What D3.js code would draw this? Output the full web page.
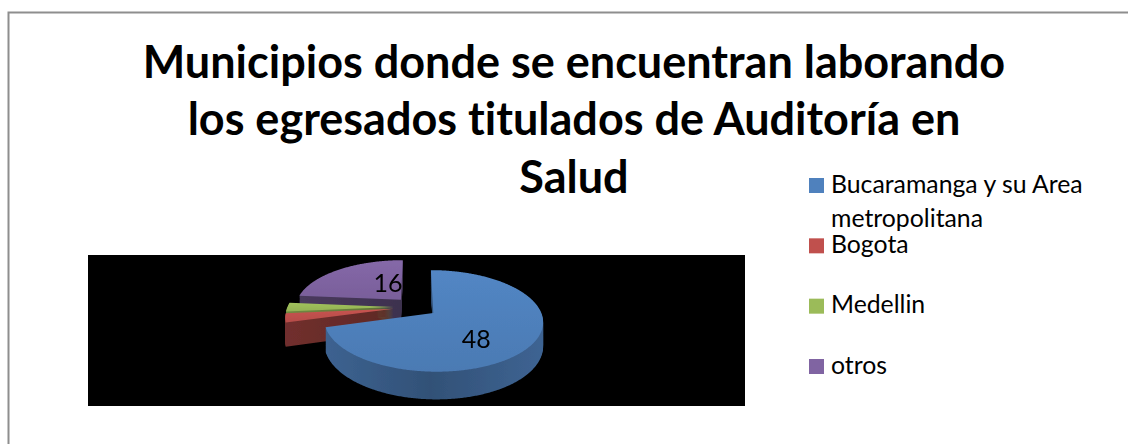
<!DOCTYPE html>
<html>
<head>
<meta charset="utf-8">
<script src="https://cdn.jsdelivr.net/npm/d3@7"></script>
<style>
  html, body { margin: 0; padding: 0; background: #fff; }
  svg { display: block; }
  text { font-family: Lato, "Open Sans", sans-serif; fill: #000; font-variant-ligatures: none; }
</style>
</head>
<body>
<div id="grafica"></div>
<script>
// datos
const titleLines = ["Municipios donde se encuentran laborando", "los egresados titulados de Auditoría en", "Salud"];
const categories = ["Bucaramanga y su Area metropolitana", "Bogota", "Medellin", "otros"];
const legendLines = [["Bucaramanga y su Area", "metropolitana"], ["Bogota"], ["Medellin"], ["otros"]];
const values = [48, 2, 2, 16];
const shownLabels = ["48", "", "", "16"];
const colors = ["#4f81bd", "#c0504d", "#9bbb59", "#8064a2"];
const wallShade = [0, 0.9, 0.3, 0.9];

const width = 1128, height = 444;

const svg = d3.select("#grafica").append("svg")
  .attr("width", width)
  .attr("height", height);

const defs = svg.append("defs");
defs.append("filter").attr("id", "blur")
  .append("feGaussianBlur").attr("stdDeviation", 0.7);

// marco (solo arriba e izquierda)
svg.append("path")
  .attr("d", `M8.5,${height} V12.5 H${width}`)
  .attr("fill", "none")
  .attr("stroke", "#8e8e8e")
  .attr("stroke-width", 2);

// titulo
svg.append("g").selectAll("text")
  .data(titleLines)
  .join("text")
  .attr("x", 574)
  .attr("y", (d, i) => [78, 135, 193][i])
  .attr("text-anchor", "middle")
  .attr("font-size", 45)
  .attr("font-weight", 700)
  .text((d) => d);

// area negra del grafico
svg.append("rect")
  .attr("x", 88).attr("y", 255)
  .attr("width", 657).attr("height", 151)
  .attr("fill", "#000");

// pastel 3D: plano inclinado con perspectiva
const radius = 106, squash = 0.45, focal = 700, depth = 23, explode = 22;
const center = { x: 415.4, y: 307 };

const project = (px, py, z) => {
  const s = focal / (focal - py);
  return [center.x + px * s, center.y + py * squash * s + z * s];
};

const pie = d3.pie().sort(null).value((d) => d);
const arcs = pie(values).map((a, i) => ({ ...a, i }));

const sliceShape = (a, z) => {
  const mid = (a.startAngle + a.endAngle) / 2;
  const ox = Math.sin(mid) * explode, oy = -Math.cos(mid) * explode;
  const pts = [project(ox, oy, z)];
  d3.range(a.startAngle, a.endAngle, 0.01).concat(a.endAngle).forEach((t) => {
    pts.push(project(ox + Math.sin(t) * radius, oy - Math.cos(t) * radius, z));
  });
  return d3.line()(pts) + "Z";
};

// gradientes de cara superior y pared
arcs.forEach((a) => {
  const c = d3.color(colors[a.i]);
  const wall = defs.append("linearGradient").attr("id", `wall${a.i}`)
    .attr("gradientUnits", "userSpaceOnUse")
    .attr("x1", 290).attr("x2", 545).attr("y1", 0).attr("y2", 0);
  wall.append("stop").attr("offset", 0).attr("stop-color", c.darker(0.6 + wallShade[a.i]));
  wall.append("stop").attr("offset", 0.55).attr("stop-color", c.darker(1.3 + wallShade[a.i]));
  wall.append("stop").attr("offset", 1).attr("stop-color", c.darker(0.7 + wallShade[a.i]));
  const top = defs.append("linearGradient").attr("id", `top${a.i}`)
    .attr("x1", 0).attr("x2", 0).attr("y1", 0).attr("y2", 1);
  top.append("stop").attr("offset", 0).attr("stop-color", c.brighter(0.1));
  top.append("stop").attr("offset", 1).attr("stop-color", c.darker(0.15));
});

const gPie = svg.append("g").attr("filter", "url(#blur)");

// de atras hacia adelante: otros, Medellin, Bogota, Bucaramanga
[3, 2, 1, 0].forEach((i) => {
  const a = arcs[i];
  const g = gPie.append("g");
  g.selectAll("path.wall")
    .data(d3.range(depth, 0, -1))
    .join("path")
    .attr("class", "wall")
    .attr("d", (z) => sliceShape(a, z))
    .attr("fill", `url(#wall${i})`);
  g.append("path")
    .attr("d", sliceShape(a, 0))
    .attr("fill", `url(#top${i})`);
});

// etiquetas de datos
const labelOffsets = [[43, 35], [0, 0], [0, 0], [-13, -8]];
gPie.selectAll("text.dato")
  .data(arcs.filter((a) => shownLabels[a.i] !== ""))
  .join("text")
  .attr("class", "dato")
  .attr("x", (a) => {
    const mid = (a.startAngle + a.endAngle) / 2;
    return project(Math.sin(mid) * explode, -Math.cos(mid) * explode, 0)[0] + labelOffsets[a.i][0];
  })
  .attr("y", (a) => {
    const mid = (a.startAngle + a.endAngle) / 2;
    return project(Math.sin(mid) * explode, -Math.cos(mid) * explode, 0)[1] + labelOffsets[a.i][1];
  })
  .attr("text-anchor", "middle")
  .attr("font-size", 25)
  .text((a) => shownLabels[a.i]);

// leyenda
const legendY = d3.scalePoint().domain(categories).range([185.5, 366.5]);
const legend = svg.append("g").selectAll("g")
  .data(categories)
  .join("g")
  .attr("transform", (d) => `translate(809,${legendY(d)})`);

legend.append("rect")
  .attr("y", -7.5)
  .attr("width", 15).attr("height", 15)
  .attr("fill", (d, i) => colors[i]);

legend.append("text")
  .attr("font-size", 24.8)
  .selectAll("tspan")
  .data((d, i) => legendLines[i])
  .join("tspan")
  .attr("x", 22)
  .attr("y", (d, i) => 7 + i * 34)
  .text((d) => d);
</script>
</body>
</html>
